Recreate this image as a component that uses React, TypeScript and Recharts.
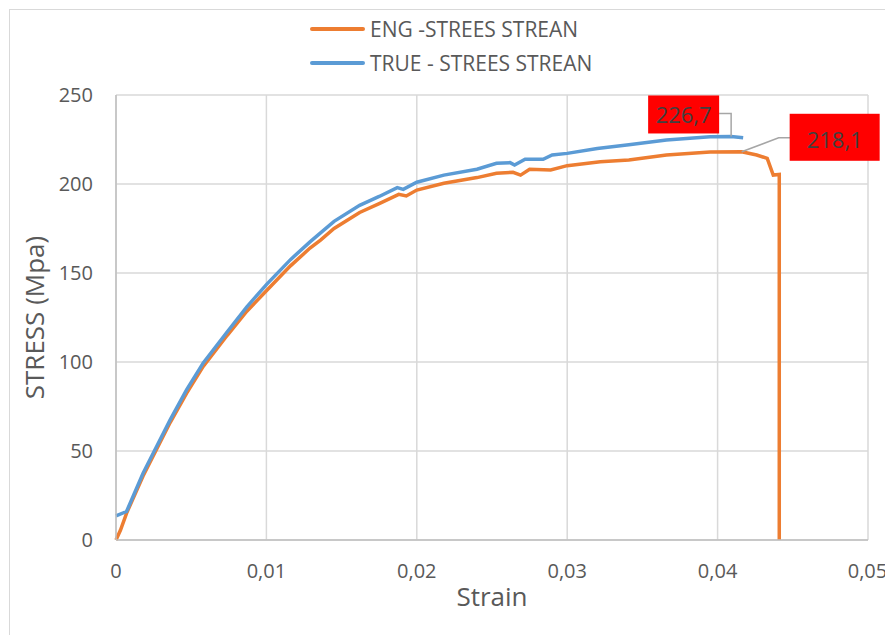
import { LineChart, Line, XAxis, YAxis, CartesianGrid, Legend, LabelList, Label } from 'recharts';

const engStrain = [0, 0.0003, 0.0007, 0.0018, 0.0027, 0.0036, 0.0047, 0.0058, 0.0074, 0.0087, 0.01, 0.0116, 0.0129, 0.0136, 0.0145, 0.0162, 0.0175, 0.0188, 0.0193, 0.02, 0.0218, 0.024, 0.0253, 0.0264, 0.0269, 0.0275, 0.0289, 0.03, 0.0322, 0.0341, 0.0366, 0.0395, 0.0416, 0.0426, 0.0433, 0.0437, 0.0441, 0.0441];
const engStress = [0, 5.6, 15, 36, 51, 66, 82.5, 97.5, 115, 128.5, 140, 154, 164, 168.5, 175, 184, 189, 194.2, 193.3, 196.6, 200.4, 203.6, 206, 206.6, 205, 208.3, 207.9, 210.3, 212.5, 213.5, 216.3, 218, 218.1, 216.3, 214.4, 205, 205.4, 0];

const trueStrain = [0, 0.0007, 0.0018, 0.0027, 0.0036, 0.0047, 0.0058, 0.0074, 0.0087, 0.01, 0.0116, 0.0129, 0.0136, 0.0145, 0.0162, 0.0175, 0.0187, 0.0191, 0.02, 0.0218, 0.024, 0.0253, 0.0262, 0.0265, 0.0272, 0.0284, 0.029, 0.03, 0.032, 0.0341, 0.0366, 0.0395, 0.0409, 0.0417];
const trueStress = [13.5, 16, 37.5, 52.5, 67.5, 84.5, 99.5, 117, 131, 143.5, 157.5, 167.5, 172.5, 179, 188, 193, 198, 197, 201, 205, 208.3, 211.6, 212, 210.7, 213.9, 213.9, 216.3, 217.2, 220, 222, 224.7, 226.6, 226.7, 226];

const xTicks = [0, 0.01, 0.02, 0.03, 0.04, 0.05];
const yTicks = [0, 50, 100, 150, 200, 250];

const engMax = 218.1;
const trueMax = 226.7;

const engData = engStrain.map((x, i) => ({ x, y: engStress[i] }));
const trueData = trueStrain.map((x, i) => ({ x, y: trueStress[i] }));

const FONT = '"Open Sans", sans-serif';
const TEXT = '#595959';
const ORANGE = '#ED7D31';
const BLUE = '#5B9BD5';

const fmt = (v: number) => (v === 0 ? '0' : v.toFixed(2).replace('.', ','));

function trueLabel(props: any) {
    const x = props.x ?? props.viewBox?.x;
    const y = props.y ?? props.viewBox?.y;
    if (props.value !== trueMax) return null;
    return (
        <g>
            <polyline points={`${x - 12},${y - 23} ${x},${y - 23} ${x},${y}`} fill="none" stroke="#a6a6a6" strokeWidth={1.5} />
            <rect x={x - 83} y={y - 41} width={71} height={38} fill="#ff0000" />
            <text x={x - 47.5} y={y - 22} textAnchor="middle" dominantBaseline="central" fontSize={22} fontFamily={FONT} fill="#404040">
                226,7
            </text>
        </g>
    );
}

function engLabel(props: any) {
    const x = props.x ?? props.viewBox?.x;
    const y = props.y ?? props.viewBox?.y;
    if (props.value !== engMax) return null;
    return (
        <g>
            <polyline points={`${x},${y} ${x + 37},${y - 14} ${x + 49},${y - 14}`} fill="none" stroke="#a6a6a6" strokeWidth={1.5} />
            <rect x={x + 48} y={y - 38} width={90} height={47} fill="#ff0000" />
            <text x={x + 93} y={y - 13} textAnchor="middle" dominantBaseline="central" fontSize={22} fontFamily={FONT} fill="#404040">
                218,1
            </text>
        </g>
    );
}

function LegendBox({ payload }: any) {
    return (
        <div style={{ fontFamily: FONT, fontSize: 21, color: TEXT }}>
            {(payload || []).map((p: any) => (
                <div key={p.value} style={{ display: 'flex', alignItems: 'center', height: 34 }}>
                    <div style={{ width: 55, height: 4, borderRadius: 2, background: p.color, marginRight: 5 }} />
                    <span>{p.value}</span>
                </div>
            ))}
        </div>
    );
}

export default function App() {
    return (
        <div style={{ position: 'relative', width: 877, height: 627 }}>
            <style>{'svg.recharts-surface{overflow:visible !important} html,body{overflow:hidden}'}</style>
            <div
                style={{
                    position: 'absolute',
                    left: 1,
                    top: 1,
                    width: 884,
                    height: 626,
                    borderLeft: '1px solid #d9d9d9',
                    borderTop: '1px solid #d9d9d9',
                    boxSizing: 'border-box',
                }}
            />
            <LineChart width={877} height={627} margin={{ top: 19, right: 17, bottom: 55, left: 18 }}>
                <CartesianGrid stroke="#d9d9d9" strokeWidth={1.5} />
                <XAxis
                    type="number"
                    dataKey="x"
                    domain={[0, 0.05]}
                    ticks={xTicks}
                    tickFormatter={fmt}
                    height={40}
                    stroke="#bfbfbf"
                    strokeWidth={1.5}
                    tickLine={false}
                    tickMargin={18}
                    tick={{ fill: TEXT, fontSize: 20, fontFamily: FONT }}
                >
                    <Label value="Strain" position="bottom" offset={8} style={{ fill: TEXT, fontSize: 26, fontFamily: FONT }} />
                </XAxis>
                <YAxis
                    type="number"
                    domain={[0, 250]}
                    ticks={yTicks}
                    width={90}
                    stroke="#bfbfbf"
                    strokeWidth={1.5}
                    tickLine={false}
                    tickMargin={17}
                    tick={{ fill: TEXT, fontSize: 20, fontFamily: FONT }}
                >
                    <Label
                        value="STRESS (Mpa)"
                        angle={-90}
                        position="insideLeft"
                        offset={9}
                        style={{ fill: TEXT, fontSize: 26, fontFamily: FONT, textAnchor: 'middle' }}
                    />
                </YAxis>
                <Legend verticalAlign="top" content={<LegendBox />} wrapperStyle={{ top: 4, left: 302, width: 340 }} />
                <Line
                    data={engData}
                    dataKey="y"
                    name="ENG -STREES STREAN"
                    type="linear"
                    stroke={ORANGE}
                    strokeWidth={3.5}
                    dot={false}
                    isAnimationActive={false}
                >
                    <LabelList dataKey="y" content={engLabel} />
                </Line>
                <Line
                    data={trueData}
                    dataKey="y"
                    name="TRUE - STREES STREAN"
                    type="linear"
                    stroke={BLUE}
                    strokeWidth={3.5}
                    dot={false}
                    isAnimationActive={false}
                >
                    <LabelList dataKey="y" content={trueLabel} />
                </Line>
            </LineChart>
        </div>
    );
}
